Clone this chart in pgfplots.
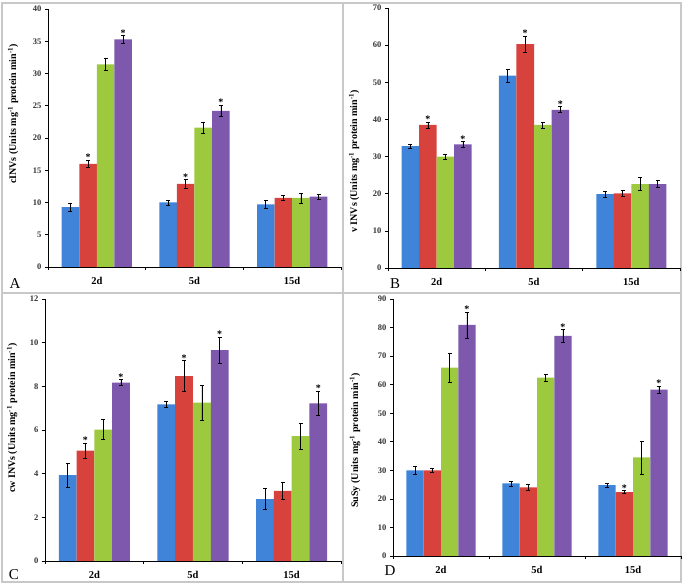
\documentclass[border=0pt]{standalone}
\usepackage{fontspec}
\setmainfont{Liberation Serif}
\usepackage{pgfplots}
\pgfplotsset{compat=1.18}
\definecolor{cB}{HTML}{3F84D8}
\definecolor{cR}{HTML}{D8423D}
\definecolor{cG}{HTML}{9DC93F}
\definecolor{cP}{HTML}{7E58AC}
\definecolor{frame}{HTML}{C8C8C8}
\pgfplotsset{
  ser/.style={ybar, bar width=0.18, bar shift=0pt, draw=none,
    fill=#1,
    error bars/.cd, y dir=both, y explicit,
    error bar style={black, line width=0.6pt},
    error mark options={black, rotate=90, mark size=2pt, line width=0.6pt}},
  s1/.style={ser=cB},
  s2/.style={ser=cR},
  s3/.style={ser=cG},
  s4/.style={ser=cP},
  stars/.style={only marks, mark=none, nodes near coords={*},
    every node near coord/.append style={anchor=south, inner sep=0.5pt, yshift=-1.5pt, font=\fontsize{10}{10}\selectfont\bfseries, black}},
  panel/.style={scale only axis, anchor=south west, axis lines*=left,
    xmin=-0.5, xmax=2.5, ymin=0,
    xtick={-0.5,0.5,1.5,2.5}, xticklabels={},
    extra x ticks={0,1,2}, extra x tick labels={2d,5d,15d},
    extra x tick style={major tick length=0pt, tick label style={yshift=-7pt, font=\fontsize{10.5}{10.5}\selectfont\bfseries}},
    tick align=outside, major tick length=3pt,
    axis line style={black, line width=0.8pt},
    tick style={black, line width=0.6pt},
    yticklabel style={font=\fontsize{8.5}{8.5}\selectfont\bfseries, color=black!80},
    /pgf/number format/assume math mode=true,
    ylabel style={anchor=center, font=\fontsize{10}{10}\selectfont\bfseries},
    clip=false},
}
\begin{document}
\begin{tikzpicture}[x=1pt,y=1pt]
\useasboundingbox (0,0) rectangle (686,586);
\draw[frame, line width=1.3pt] (2,4) rectangle (681,583);
\draw[frame, line width=1.3pt] (343,4) -- (343,583);
\draw[frame, line width=1.3pt] (2,293) -- (681,293);

% Panel A
\begin{axis}[panel, at={(48pt,319pt)}, width=293pt, height=258pt,
  ymax=40, ytick={0,5,...,40},
  ylabel={cINVs (Units mg\textsuperscript{-1} protein min\textsuperscript{-1})},
  ylabel style={at={(axis description cs:-0.119,0.593)}}]
\addplot[s1] coordinates {(-0.27,9.3) +- (0,0.6) (0.73,10.0) +- (0,0.4) (1.73,9.7) +- (0,0.6)};
\addplot[s2] coordinates {(-0.09,16.0) +- (0,0.6) (0.91,12.9) +- (0,0.7) (1.91,10.7) +- (0,0.4)};
\addplot[s3] coordinates {(0.09,31.4) +- (0,0.95) (1.09,21.6) +- (0,0.8) (2.09,10.7) +- (0,0.8)};
\addplot[s4] coordinates {(0.27,35.3) +- (0,0.55) (1.27,24.2) +- (0,0.9) (2.27,10.9) +- (0,0.4)};
\addplot[stars] coordinates {(-0.09,16.6) (0.27,35.85) (0.91,13.6) (1.27,25.1)};
\end{axis}

% Panel B
\begin{axis}[panel, at={(388pt,318pt)}, width=292pt, height=260pt,
  ymax=70, ytick={0,10,...,70},
  ylabel={v INVs (Units mg\textsuperscript{-1} protein min\textsuperscript{-1})},
  ylabel style={at={(axis description cs:-0.116,0.41)}}]
\addplot[s1] coordinates {(-0.27,32.8) +- (0,0.6) (0.73,51.8) +- (0,1.8) (1.73,19.9) +- (0,0.8)};
\addplot[s2] coordinates {(-0.09,38.5) +- (0,0.8) (0.91,60.3) +- (0,2.2) (1.91,20.1) +- (0,0.9)};
\addplot[s3] coordinates {(0.09,30.0) +- (0,0.7) (1.09,38.5) +- (0,0.8) (2.09,22.6) +- (0,1.7)};
\addplot[s4] coordinates {(0.27,33.3) +- (0,0.7) (1.27,42.6) +- (0,0.8) (2.27,22.6) +- (0,0.9)};
\addplot[stars] coordinates {(-0.09,39.3) (0.27,34.0) (0.91,62.5) (1.27,43.4)};
\end{axis}

% Panel C
\begin{axis}[panel, at={(45pt,25pt)}, width=296pt, height=262pt,
  ymax=12, ytick={0,2,...,12},
  ylabel={cw INVs (Units mg\textsuperscript{-1} protein min\textsuperscript{-1})},
  ylabel style={at={(axis description cs:-0.111,0.545)}}]
\addplot[s1] coordinates {(-0.27,3.93) +- (0,0.55) (0.73,7.17) +- (0,0.15) (1.73,2.83) +- (0,0.48)};
\addplot[s2] coordinates {(-0.09,5.05) +- (0,0.36) (0.91,8.47) +- (0,0.7) (1.91,3.21) +- (0,0.38)};
\addplot[s3] coordinates {(0.09,6.02) +- (0,0.45) (1.09,7.25) +- (0,0.8) (2.09,5.72) +- (0,0.6)};
\addplot[s4] coordinates {(0.27,8.17) +- (0,0.13) (1.27,9.66) +- (0,0.6) (2.27,7.22) +- (0,0.56)};
\addplot[stars] coordinates {(-0.09,5.41) (0.27,8.30) (0.91,9.17) (1.27,10.26) (2.27,7.78)};
\end{axis}

% Panel D
\begin{axis}[panel, at={(393pt,30pt)}, width=288pt, height=257pt,
  ymax=90, ytick={0,10,...,90},
  ylabel={SuSy (Units mg\textsuperscript{-1} protein min\textsuperscript{-1})},
  ylabel style={at={(axis description cs:-0.132,0.45)}}]
\addplot[s1] coordinates {(-0.27,30.0) +- (0,1.3) (0.73,25.4) +- (0,0.9) (1.73,24.8) +- (0,0.6)};
\addplot[s2] coordinates {(-0.09,30.0) +- (0,0.8) (0.91,24.0) +- (0,1.0) (1.91,22.4) +- (0,0.6)};
\addplot[s3] coordinates {(0.09,66.0) +- (0,5.1) (1.09,62.5) +- (0,1.3) (2.09,34.5) +- (0,5.8)};
\addplot[s4] coordinates {(0.27,80.9) +- (0,4.5) (1.27,77.1) +- (0,2.3) (2.27,58.3) +- (0,1.2)};
\addplot[stars] coordinates {(0.27,85.4) (1.27,79.4) (1.91,23.0) (2.27,59.5)};
\end{axis}

\node[font=\fontsize{15}{15}\selectfont] at (15,302) {A};
\node[font=\fontsize{15}{15}\selectfont] at (395,302) {B};
\node[font=\fontsize{15}{15}\selectfont] at (14,11) {C};
\node[font=\fontsize{15}{15}\selectfont] at (390,15) {D};
\end{tikzpicture}
\end{document}
